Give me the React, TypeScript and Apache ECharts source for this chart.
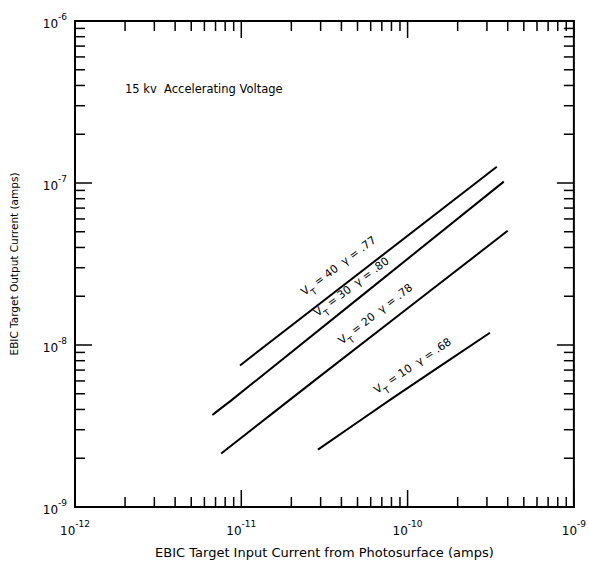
import React, { useEffect, useRef } from "react";
import * as echarts from "echarts";

const xMin = 1e-12;
const xMax = 1e-9;
const yMin = 1e-9;
const yMax = 1e-6;
const xDecades = [1e-12, 1e-11, 1e-10];
const yDecades = [1e-9, 1e-8, 1e-7];
const minorSteps = [2, 3, 4, 5, 6, 7, 8, 9];

const line40: number[][] = [
  [9.82e-12, 7.48e-9],
  [3.44e-10, 1.26e-7],
];
const line30: number[][] = [
  [6.7e-12, 3.7e-9],
  [9.17e-12, 4.75e-9],
  [3.79e-10, 1.02e-7],
];
const line20: number[][] = [
  [7.57e-12, 2.14e-9],
  [2.85e-11, 6.2e-9],
  [4.0e-10, 5.07e-8],
];
const line10: number[][] = [
  [2.89e-11, 2.26e-9],
  [7.96e-11, 4.63e-9],
  [3.13e-10, 1.19e-8],
];

const seriesNames = [
  "VT = 40  γ = .77",
  "VT = 30  γ = .80",
  "VT = 20  γ = .78",
  "VT = 10  γ = .68",
];
const labelTexts = [
  ["40", ".77"],
  ["30", ".80"],
  ["20", ".78"],
  ["10", ".68"],
];

const FONT = "DejaVu Sans";

function buildTicks(decades: number[], last: number) {
  const out: number[][] = [];
  decades.forEach((d) => {
    out.push([d, 1]);
    minorSteps.forEach((m) => out.push([d * m, 0]));
  });
  out.push([last, 1]);
  return out;
}

export default function App() {
  const ref = useRef<HTMLDivElement>(null);
  useEffect(() => {
    if (!ref.current) return;
    const chart = echarts.init(ref.current, undefined, { renderer: "svg" });
    const xTicks = buildTicks(xDecades, xMax);
    const yTicks = buildTicks(yDecades, yMax);
    const tickStyle = { stroke: "#000", lineWidth: 1.5 };

    const labelFormatter = (v: number) => {
      const e = Math.round(Math.log10(v));
      return `{b|10}{p|${e}}`;
    };
    const labelRich = {
      b: { fontSize: 12, fontFamily: FONT, color: "#000", lineHeight: 18, verticalAlign: "bottom" },
      p: { fontSize: 9, fontFamily: FONT, color: "#000", verticalAlign: "top" },
    };

    const lineData = [line40, line30, line20, line10];
    const labelPos = [
      { x: 340, y: 268, r: 37 },
      { x: 353, y: 289, r: 37 },
      { x: 377, y: 316, r: 38 },
      { x: 414, y: 368, r: 34 },
    ];

    const option: any = {
      animation: false,
      backgroundColor: "#fff",
      grid: {
        left: 70,
        top: 21,
        width: 505,
        height: 491,
        show: true,
        borderColor: "#000",
        borderWidth: 2,
        backgroundColor: "transparent",
      },
      xAxis: {
        type: "log",
        logBase: 10,
        min: xMin,
        max: xMax,
        splitNumber: 3,
        name: "EBIC Target Input Current from Photosurface (amps)",
        nameLocation: "middle",
        nameGap: 39,
        nameTextStyle: { fontFamily: FONT, fontSize: 13, color: "#000" },
        axisLine: { show: true, lineStyle: { color: "#000", width: 2 } },
        axisTick: { show: false },
        splitLine: { show: false },
        minorTick: { show: false },
        axisLabel: { margin: 12, formatter: labelFormatter, rich: labelRich },
      },
      yAxis: {
        type: "log",
        logBase: 10,
        min: yMin,
        max: yMax,
        splitNumber: 3,
        name: "EBIC Target Output Current (amps)",
        nameLocation: "middle",
        nameGap: 56,
        nameRotate: 90,
        nameTextStyle: { fontFamily: FONT, fontSize: 10.5, color: "#000" },
        axisLine: { show: true, lineStyle: { color: "#000", width: 2 } },
        axisTick: { show: false },
        splitLine: { show: false },
        minorTick: { show: false },
        axisLabel: { margin: 8, formatter: labelFormatter, rich: labelRich },
      },
      series: [
        ...lineData.map((d, i) => ({
          name: seriesNames[i],
          type: "line",
          data: d,
          showSymbol: false,
          symbol: "none",
          smooth: 0.2,
          lineStyle: { color: "#000", width: 2 },
          silent: true,
        })),
        {
          type: "custom",
          name: "xticks",
          silent: true,
          data: xTicks.map((t) => [t[0], yMin, t[1]]),
          renderItem: (params: any, api: any) => {
            const cs = params.coordSys;
            const p = api.coord([api.value(0), yMin]);
            const len = api.value(2) ? 17 : 10;
            const b = cs.y + cs.height;
            return {
              type: "group",
              children: [
                { type: "line", shape: { x1: p[0], y1: b, x2: p[0], y2: b - len }, style: tickStyle },
                { type: "line", shape: { x1: p[0], y1: cs.y, x2: p[0], y2: cs.y + len }, style: tickStyle },
              ],
            };
          },
        },
        {
          type: "custom",
          name: "yticks",
          silent: true,
          data: yTicks.map((t) => [xMin, t[0], t[1]]),
          renderItem: (params: any, api: any) => {
            const cs = params.coordSys;
            const p = api.coord([xMin, api.value(1)]);
            const len = api.value(2) ? 17 : 10;
            const r = cs.x + cs.width;
            return {
              type: "group",
              children: [
                { type: "line", shape: { x1: cs.x, y1: p[1], x2: cs.x + len, y2: p[1] }, style: tickStyle },
                { type: "line", shape: { x1: r, y1: p[1], x2: r - len, y2: p[1] }, style: tickStyle },
              ],
            };
          },
        },
      ],
      graphic: [
        {
          type: "text",
          left: 125,
          top: 83,
          style: {
            text: "15 kv  Accelerating Voltage",
            fontFamily: FONT,
            fontSize: 11.5,
            fill: "#000",
          },
        },
        ...labelPos.map((lp, i) => ({
          type: "text",
          x: lp.x,
          y: lp.y,
          rotation: (lp.r * Math.PI) / 180,
          style: {
            text: `{n|V}{t|T}{n| = ${labelTexts[i][0]}  γ = ${labelTexts[i][1]}}`,
            align: "center",
            verticalAlign: "middle",
            fill: "#000",
            rich: {
              n: { fontSize: 11, fontFamily: FONT, fill: "#000", lineHeight: 16, verticalAlign: "top" },
              t: { fontSize: 9, fontFamily: FONT, fill: "#000", verticalAlign: "bottom" },
            },
          },
        })),
      ],
    };
    chart.setOption(option);
    return () => chart.dispose();
  }, []);
  return (
    <div
      ref={ref}
      style={{ position: "fixed", left: 0, top: 0, width: 589, height: 564, background: "#fff" }}
    />
  );
}
